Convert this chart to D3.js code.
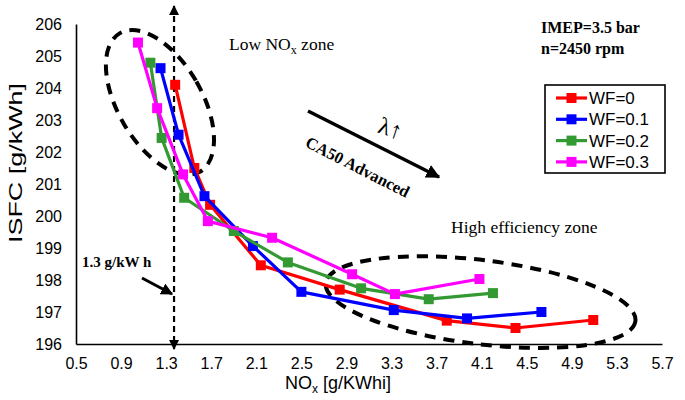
<!DOCTYPE html>
<html><head><meta charset="utf-8">
<script src="https://cdn.jsdelivr.net/npm/d3@7"></script>
<style>html,body{margin:0;padding:0;background:#fff;} svg{display:block;}</style>
</head><body>
<svg id="chart" width="685" height="400"></svg>
<script>
// ---- data ----
const xTickValues = [0.5,0.9,1.3,1.7,2.1,2.5,2.9,3.3,3.7,4.1,4.5,4.9,5.3,5.7];
const yTickValues = [196,197,198,199,200,201,202,203,204,205,206];
const seriesNames = ["WF=0","WF=0.1","WF=0.2","WF=0.3"];
const noxWF0  = [1.38,1.55,1.69,2.14,2.84,3.79,4.40,5.09];
const isfcWF0 = [204.1,201.5,200.35,198.46,197.70,196.73,196.50,196.75];
const noxWF01  = [1.25,1.41,1.64,2.07,2.50,3.32,3.97,4.63];
const isfcWF01 = [204.62,202.54,200.62,199.06,197.63,197.06,196.80,197.0];
const noxWF02  = [1.16,1.26,1.46,1.90,2.38,3.03,3.63,4.20];
const isfcWF02 = [204.79,202.44,200.57,199.53,198.55,197.74,197.40,197.59];
const noxWF03  = [1.05,1.22,1.45,1.67,2.24,2.95,3.33,4.08];
const isfcWF03 = [205.42,203.37,201.30,199.84,199.32,198.18,197.56,198.03];
const noxLimit = 1.37;
const lowZoneCenter = [1.245, 203.55];
const highZoneCenter = [4.09, 197.31];

const colors = ["#ff0000","#0000ff","#339933","#ff00ff"];
const series = [
  {name: seriesNames[0], x: noxWF0,  y: isfcWF0,  color: colors[0]},
  {name: seriesNames[1], x: noxWF01, y: isfcWF01, color: colors[1]},
  {name: seriesNames[2], x: noxWF02, y: isfcWF02, color: colors[2]},
  {name: seriesNames[3], x: noxWF03, y: isfcWF03, color: colors[3]}
];

const svg = d3.select("#chart");
const sans = "'Liberation Sans', Arial, sans-serif";
const serif = "'Liberation Serif', 'Times New Roman', serif";

const x = d3.scaleLinear().domain([0.5,5.7]).range([76,662]);
const y = d3.scaleLinear().domain([196,206]).range([344,24]);

// defs: arrow markers
const defs = svg.append("defs");
defs.append("marker").attr("id","arrowEnd").attr("viewBox","0 0 10 10")
  .attr("refX",9).attr("refY",5).attr("markerWidth",4).attr("markerHeight",4)
  .attr("markerUnits","strokeWidth").attr("orient","auto")
  .append("path").attr("d","M0,0 L10,5 L0,10 z").attr("fill","#000");
defs.append("marker").attr("id","arrowSmall").attr("viewBox","0 0 10 10")
  .attr("refX",9).attr("refY",5).attr("markerWidth",4.5).attr("markerHeight",4.5)
  .attr("markerUnits","strokeWidth").attr("orient","auto-start-reverse")
  .append("path").attr("d","M0,0 L10,5 L0,10 z").attr("fill","#000");

// axes
const xAxis = d3.axisBottom(x).tickValues(xTickValues).tickFormat(d3.format(".1f"))
  .tickSize(0).tickSizeOuter(0).tickPadding(14);
const gx = svg.append("g").attr("transform",`translate(0,${y(196)})`).call(xAxis);
gx.select(".domain").attr("stroke","#000").attr("stroke-width",1.6);
gx.selectAll("text").attr("font-family",sans).attr("font-size",16).attr("fill","#000");

const yAxis = d3.axisLeft(y).tickValues(yTickValues).tickFormat(d3.format("d"))
  .tickSize(0).tickSizeOuter(0).tickPadding(14);
const gy = svg.append("g").attr("transform",`translate(${x(0.5)},0)`).call(yAxis);
gy.select(".domain").attr("stroke","#000").attr("stroke-width",1.6);
gy.selectAll("text").attr("font-family",sans).attr("font-size",16).attr("fill","#000");

// axis titles
svg.append("text").attr("transform","translate(22,163) rotate(-90)")
  .attr("text-anchor","middle").attr("font-family",sans).attr("font-size",19)
  .attr("textLength",160).attr("lengthAdjust","spacingAndGlyphs")
  .text("ISFC [g/kWh]");
const xt = svg.append("text").attr("x",338).attr("y",389).attr("text-anchor","middle")
  .attr("font-family",sans).attr("font-size",18);
xt.append("tspan").text("NO");
xt.append("tspan").attr("font-size",12).attr("dy",4).text("x");
xt.append("tspan").attr("dy",-4).text(" [g/KWhi]");

// ellipses
const dashEll = "11,8";
svg.append("ellipse")
  .attr("transform",`translate(${x(lowZoneCenter[0])},${y(lowZoneCenter[1])}) rotate(-30)`)
  .attr("rx",42).attr("ry",80).attr("fill","none").attr("stroke","#000")
  .attr("stroke-width",4).attr("stroke-dasharray",dashEll);
svg.append("ellipse")
  .attr("transform",`translate(${x(highZoneCenter[0])},${y(highZoneCenter[1])}) rotate(7)`)
  .attr("rx",156).attr("ry",42).attr("fill","none").attr("stroke","#000")
  .attr("stroke-width",4).attr("stroke-dasharray",dashEll);

// vertical limit line
svg.append("line").attr("x1",x(noxLimit)).attr("x2",x(noxLimit))
  .attr("y1",6).attr("y2",349).attr("stroke","#000").attr("stroke-width",2.2)
  .attr("stroke-dasharray","6,4")
  .attr("marker-start","url(#arrowSmall)").attr("marker-end","url(#arrowSmall)");

// series
const line = d3.line().x(d=>x(d[0])).y(d=>y(d[1]));
series.forEach(s=>{
  const pts = s.x.map((v,i)=>[v, s.y[i]]);
  const g = svg.append("g");
  g.append("path").attr("d",line(pts)).attr("fill","none").attr("stroke",s.color)
    .attr("stroke-width",3.2).attr("stroke-linejoin","round");
  g.selectAll("rect").data(pts).join("rect")
    .attr("x",d=>x(d[0])-5).attr("y",d=>y(d[1])-5).attr("width",10).attr("height",10)
    .attr("fill",s.color);
});

// annotations
const low = svg.append("text").attr("x",229).attr("y",50).attr("font-family",serif).attr("font-size",17.5);
low.append("tspan").text("Low NO");
low.append("tspan").attr("font-size",12).attr("dy",4).text("x");
low.append("tspan").attr("dy",-4).text(" zone");

svg.append("text").attr("x",451).attr("y",233).attr("font-family",serif).attr("font-size",17.5)
  .text("High efficiency zone");

svg.append("text").attr("x",541).attr("y",33).attr("font-family",serif).attr("font-size",16)
  .attr("font-weight","bold").text("IMEP=3.5 bar");
svg.append("text").attr("x",541).attr("y",54).attr("font-family",serif).attr("font-size",16)
  .attr("font-weight","bold").text("n=2450 rpm");

svg.append("text").attr("x",82).attr("y",267).attr("font-family",serif).attr("font-size",15)
  .attr("font-weight","bold").text("1.3 g/kW h");
svg.append("line").attr("x1",142).attr("y1",278).attr("x2",172).attr("y2",294)
  .attr("stroke","#000").attr("stroke-width",3).attr("marker-end","url(#arrowEnd)");

// lambda arrow
svg.append("line").attr("x1",308).attr("y1",111).attr("x2",439).attr("y2",177)
  .attr("stroke","#000").attr("stroke-width",3.5).attr("marker-end","url(#arrowEnd)");
svg.append("text").attr("transform","translate(388,136) rotate(18)").attr("text-anchor","middle")
  .attr("font-family",serif).attr("font-size",24).text("λ↑");
svg.append("text").attr("transform","translate(355,172) rotate(27)").attr("text-anchor","middle")
  .attr("font-family",serif).attr("font-size",16.5).attr("font-weight","bold").text("CA50 Advanced");

// legend
const lg = svg.append("g");
lg.append("rect").attr("x",545).attr("y",85).attr("width",120).attr("height",88)
  .attr("fill","#fff").attr("stroke","#000").attr("stroke-width",1.6);
series.forEach((s,i)=>{
  const yy = 98 + i*21.3;
  lg.append("line").attr("x1",556).attr("x2",587).attr("y1",yy).attr("y2",yy)
    .attr("stroke",s.color).attr("stroke-width",3.2);
  lg.append("rect").attr("x",566.5).attr("y",yy-5).attr("width",10).attr("height",10).attr("fill",s.color);
  lg.append("text").attr("x",589).attr("y",yy).attr("dy","0.35em").attr("font-family",sans)
    .attr("font-size",17).text(s.name);
});
</script>
</body></html>
